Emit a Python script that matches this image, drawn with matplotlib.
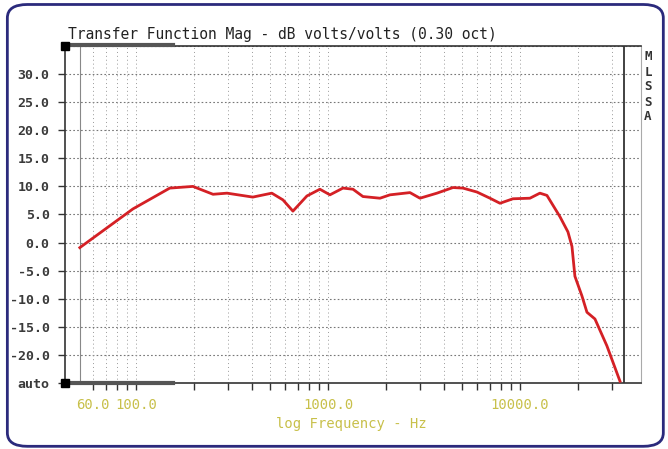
import numpy as np
import matplotlib.pyplot as plt
from matplotlib.patches import FancyBboxPatch

# Données
freq = [51, 96.5, 150, 198, 252, 298, 406, 510, 583, 657, 777, 908, 1024,
        1197, 1350, 1521, 1866, 2104, 2674, 3014, 3696, 4479, 5047, 5970,
        6980, 7870, 9194, 11270, 12700, 13820, 16160, 17780, 18660, 19330,
        21030, 22330, 24580, 28380, 33200]
mag = [-0.9, 6.0, 9.7, 10.0, 8.6, 8.8, 8.1, 8.8, 7.6, 5.6, 8.3, 9.5, 8.5,
       9.7, 9.5, 8.2, 7.9, 8.5, 8.9, 7.9, 8.8, 9.8, 9.7, 9.0,
       7.9, 7.0, 7.8, 7.9, 8.8, 8.4, 4.6, 1.9, -0.7, -6.0,
       -9.5, -12.4, -13.6, -18.4, -24.7]

y_ticks = [-25, -20, -15, -10, -5, 0, 5, 10, 15, 20, 25, 30]
y_labels = ['auto', '-20.0', '-15.0', '-10.0', '-5.0', '0.0', '5.0', '10.0',
            '15.0', '20.0', '25.0', '30.0']
x_major = [60, 100, 1000, 10000]
x_major_labels = ['60.0', '100.0', '1000.0', '10000.0']
x_minor = [70, 80, 90, 200, 300, 400, 500, 600, 700, 800, 900,
           2000, 3000, 4000, 5000, 6000, 7000, 8000, 9000, 20000, 30000]

mono = 'DejaVu Sans Mono'
jaune = '#c8c04a'

fig = plt.figure(figsize=(6.68, 4.49), dpi=100)

# Cadre arrondi
cadre = FancyBboxPatch((0.011, 0.006), 0.982, 0.984,
                       boxstyle='round,pad=0,rounding_size=0.03',
                       transform=fig.transFigure, facecolor='none',
                       edgecolor='#2b2a7c', linewidth=2, zorder=0)
fig.patches.append(cadre)

ax = fig.add_axes([65 / 668, 66 / 449, 576 / 668, 337 / 449])
ax.set_facecolor('none')
ax.set_xscale('log')
ax.set_xlim(42.7, 42700)
ax.set_ylim(-25, 35)

# Grille
for y in y_ticks[1:] + [35]:
    ax.axhline(y, color='#777777', lw=0.8, ls=(0, (1.5, 2)), zorder=1)
for x in x_major + x_minor:
    ax.axvline(x, color='#999999', lw=0.7, ls=(0, (1, 3)), zorder=1)
ax.axvline(51, color='#888888', lw=0.8, zorder=1)
ax.axvline(35000, color='#333333', lw=1.3, zorder=2)

# Courbe
ax.plot(freq, mag, color='#d42025', lw=2, zorder=3)

ax.set_yticks(y_ticks)
ax.set_yticklabels(y_labels, fontfamily=mono, fontweight='bold',
                   fontsize=9.5, color='#3a3a3a')
ax.set_xticks(x_major)
ax.set_xticklabels(x_major_labels, fontfamily=mono, fontsize=10, color=jaune)
ax.set_xticks(x_minor, minor=True)
ax.set_xticklabels([], minor=True)
ax.tick_params(axis='y', length=5, width=1, color='#333333', pad=6)
ax.tick_params(axis='x', which='both', length=5, width=1, color='#333333',
               pad=6, direction='out')

for s in ['left', 'bottom', 'top']:
    ax.spines[s].set_color('#333333')
    ax.spines[s].set_linewidth(1.2)
ax.spines['right'].set_color('#aaaaaa')
ax.spines['right'].set_linewidth(0.8)

# Carrés noirs et barres de défilement
ax.plot([0, 0], [0, 1], 's', color='black', ms=6, transform=ax.transAxes,
        clip_on=False, zorder=5)
ax.plot([0, 108 / 576], [1.004, 1.004], color='#555555', lw=3,
        transform=ax.transAxes, clip_on=False, zorder=4)
ax.plot([0, 108 / 576], [0.0, 0.0], color='#555555', lw=3,
        transform=ax.transAxes, clip_on=False, zorder=4)

ax.set_xlabel('log Frequency - Hz', fontfamily=mono, fontsize=10,
              color=jaune)
ax.xaxis.set_label_coords(286 / 576, -34 / 337)

fig.text(68 / 668, 1 - 35 / 449,
         'Transfer Function Mag - dB volts/volts (0.30 oct)',
         fontfamily=mono, fontsize=10.5, color='#222222', va='center')

for i, lettre in enumerate('MLSSA'):
    fig.text(648 / 668, 1 - (57 + 15 * i) / 449, lettre, fontfamily=mono,
             fontweight='bold', fontsize=9, color='#333333',
             ha='center', va='center')

fig.savefig('out.png', dpi=100)
